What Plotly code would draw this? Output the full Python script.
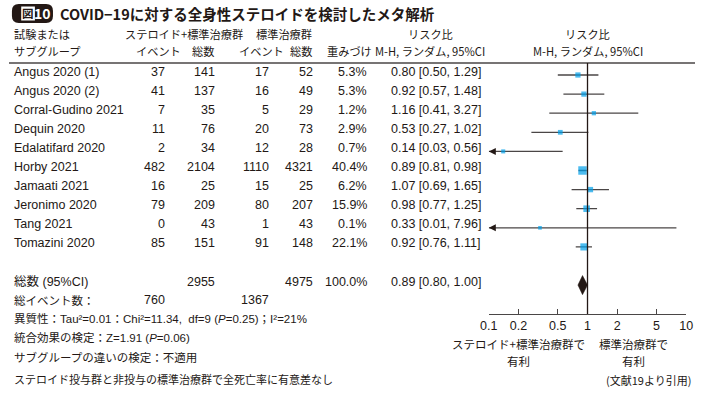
import math
import plotly.graph_objects as go

# ---------------- data ----------------
studies = ["Angus 2020 (1)", "Angus 2020 (2)", "Corral-Gudino 2021", "Dequin 2020",
           "Edalatifard 2020", "Horby 2021", "Jamaati 2021", "Jeronimo 2020",
           "Tang 2021", "Tomazini 2020"]
events_steroid = [37, 41, 7, 11, 2, 482, 16, 79, 0, 85]
total_steroid = [141, 137, 35, 76, 34, 2104, 25, 209, 43, 151]
events_control = [17, 16, 5, 20, 12, 1110, 15, 80, 1, 91]
total_control = [52, 49, 29, 73, 28, 4321, 25, 207, 43, 148]
weights = [5.3, 5.3, 1.2, 2.9, 0.7, 40.4, 6.2, 15.9, 0.1, 22.1]
rr = [0.80, 0.92, 1.16, 0.53, 0.14, 0.89, 1.07, 0.98, 0.33, 0.92]
ci_low = [0.50, 0.57, 0.41, 0.27, 0.03, 0.81, 0.69, 0.77, 0.01, 0.76]
ci_high = [1.29, 1.48, 3.27, 1.02, 0.56, 0.98, 1.65, 1.25, 7.96, 1.11]

pooled_label = "総数 (95%CI)"
pooled_total_steroid = 2955
pooled_total_control = 4975
pooled_weight = 100.0
pooled_rr = 0.89
pooled_low = 0.80
pooled_high = 1.00
total_events_steroid = 760
total_events_control = 1367

tick_values = [0.1, 0.2, 0.5, 1, 2, 5, 10]
tick_labels = ["0.1", "0.2", "0.5", "1", "2", "5", "10"]

# ---------------- layout helpers ----------------
W, H = 702, 395
ROW0, ROWH = 75, 19.1
TEXT_LIFT = 3.5          # table text sits slightly above the marks
def px(x):
    return x / W
def py(y):
    return 1 - y / H

INK = "#231815"
LINE = "#4a4646"
BLUE = "#00a0e9"
LAT = "Liberation Sans, Arial, Noto Sans CJK JP, sans-serif"
CJK = "Noto Sans CJK JP, Liberation Sans, sans-serif"

fig = go.Figure()

rows = list(range(len(studies)))
pooled_row = len(studies) + 1
xmin, xmax = tick_values[0], tick_values[-1]

# CI lines
lx, ly = [], []
for i in rows:
    lx += [max(ci_low[i], xmin), min(ci_high[i], xmax), None]
    ly += [i, i, None]
fig.add_trace(go.Scatter(x=lx, y=ly, mode="lines", line=dict(color=LINE, width=1.3),
                         hoverinfo="skip", showlegend=False))

# arrows for truncated CIs
ax_, ay_ = [], []
for i in rows:
    if ci_low[i] < xmin:
        ax_.append(xmin)
        ay_.append(i)
fig.add_trace(go.Scatter(x=ax_, y=ay_, mode="markers", cliponaxis=False,
                         marker=dict(symbol="arrow-left", size=7, color=INK),
                         hoverinfo="skip", showlegend=False))

# squares (size grows with weight)
fig.add_trace(go.Scatter(x=rr, y=rows, mode="markers", cliponaxis=False,
                         marker=dict(symbol="square", color=BLUE,
                                     size=[3.4 + 0.8 * math.sqrt(w) for w in weights],
                                     line=dict(width=0)),
                         hoverinfo="skip", showlegend=False))

# pooled diamond
fig.add_trace(go.Scatter(x=[pooled_low, pooled_rr, pooled_high, pooled_rr, pooled_low],
                         y=[pooled_row, pooled_row - 0.5, pooled_row, pooled_row + 0.5, pooled_row],
                         mode="lines", fill="toself", fillcolor=INK,
                         line=dict(color=INK, width=0.5), hoverinfo="skip", showlegend=False))

ann = []
def T(x, y, text, size=12.5, anchor="left", yref="paper", fam=LAT, bold=False, color=INK, lift=0):
    if bold:
        text = "<b>" + text + "</b>"
    ann.append(dict(x=px(x), y=y, xref="paper", yref=yref, text=text, showarrow=False,
                    xanchor=anchor, yanchor="middle", yshift=lift,
                    font=dict(size=size, family=fam, color=color)))

def R(x, row, text, anchor="left", fam=LAT):
    T(x, row, text, anchor=anchor, yref="y", fam=fam, lift=TEXT_LIFT)

# title
T(50, py(14), "COVID−19に対する全身性ステロイドを検討したメタ解析", size=14.5, fam=CJK, bold=True)
T(19.5, py(13.5), "図", size=11.5, anchor="center", fam=CJK, bold=True, color=INK)
T(34, py(13.5), "10", size=14, anchor="center", fam=CJK, bold=True, color="white")

# headers
HS = 11.2
Y1, Y2 = 34, 50.5
T(3, py(Y1), "試験または", size=HS, fam=CJK)
T(3, py(Y2), "サブグループ", size=HS, fam=CJK)
T(179, py(Y1), "ステロイド+標準治療群", size=HS, anchor="center", fam=CJK)
T(281, py(Y1), "標準治療群", size=HS, anchor="center", fam=CJK)
T(153, py(Y2), "イベント", size=HS, anchor="center", fam=CJK)
T(199, py(Y2), "総数", size=HS, anchor="center", fam=CJK)
T(258, py(Y2), "イベント", size=HS, anchor="center", fam=CJK)
T(299, py(Y2), "総数", size=HS, anchor="center", fam=CJK)
T(348, py(Y2), "重みづけ", size=HS, anchor="center", fam=CJK)
T(431, py(Y1), "リスク比", size=HS, anchor="center", fam=CJK)
T(431, py(Y2), "M-H, ランダム, 95%CI", size=HS, anchor="center", fam=CJK)
T(592, py(Y1), "リスク比", size=HS, anchor="center", fam=CJK)
T(592, py(Y2), "M-H, ランダム, 95%CI", size=HS, anchor="center", fam=CJK)

# study rows
for i in rows:
    R(3, i, studies[i])
    R(162, i, str(events_steroid[i]), anchor="right")
    R(213, i, str(total_steroid[i]), anchor="right")
    R(268, i, str(events_control[i]), anchor="right")
    R(313, i, str(total_control[i]), anchor="right")
    R(368, i, f"{weights[i]:.1f}%", anchor="right")
    R(389, i, f"{rr[i]:.2f} [{ci_low[i]:.2f}, {ci_high[i]:.2f}]")

# pooled row
R(3, pooled_row, pooled_label)
R(213, pooled_row, str(pooled_total_steroid), anchor="right")
R(313, pooled_row, str(pooled_total_control), anchor="right")
R(368, pooled_row, f"{pooled_weight:.1f}%", anchor="right")
R(389, pooled_row, f"{pooled_rr:.2f} [{pooled_low:.2f}, {pooled_high:.2f}]")

# statistics lines
SS = 11.5
T(3, py(299.5), "総イベント数：", size=SS, fam=CJK)
T(162, py(299.5), str(total_events_steroid), anchor="right")
T(268, py(299.5), str(total_events_control), anchor="right")
T(3, py(318.5), "異質性：Tau²=0.01：Chi²=11.34,  df=9 (<i>P</i>=0.25)；I²=21%", size=SS, fam=LAT)
T(3, py(337.5), "統合効果の検定：Z=1.91 (<i>P</i>=0.06)", size=SS, fam=LAT)
T(3, py(356.5), "サブグループの違いの検定：不適用", size=SS, fam=CJK)
T(3, py(379), "ステロイド投与群と非投与の標準治療群で全死亡率に有意差なし", size=11, fam=CJK)

# favours labels
T(521, py(344), "ステロイド+標準治療群で", size=SS, anchor="center", fam=CJK)
T(521, py(361), "有利", size=SS, anchor="center", fam=CJK)
T(639, py(344), "標準治療群で", size=SS, anchor="center", fam=CJK)
T(639, py(361), "有利", size=SS, anchor="center", fam=CJK)
T(700, py(380), "(文献19より引用)", size=11, anchor="right", fam=CJK)

# shapes: title box, header rule, line of no effect
def rrect(x0, y0, x1, y1, r):
    return (f"M {px(x0 + r)},{py(y0)} L {px(x1 - r)},{py(y0)} "
            f"Q {px(x1)},{py(y0)} {px(x1)},{py(y0 + r)} L {px(x1)},{py(y1 - r)} "
            f"Q {px(x1)},{py(y1)} {px(x1 - r)},{py(y1)} L {px(x0 + r)},{py(y1)} "
            f"Q {px(x0)},{py(y1)} {px(x0)},{py(y1 - r)} L {px(x0)},{py(y0 + r)} "
            f"Q {px(x0)},{py(y0)} {px(x0 + r)},{py(y0)} Z")

shapes = [
    dict(type="path", xref="paper", yref="paper", path=rrect(3, 4, 45, 23, 7),
         fillcolor=INK, line=dict(width=0), layer="below"),
    dict(type="rect", xref="paper", yref="paper", x0=px(12.5), x1=px(26.5), y0=py(20.5), y1=py(6.5),
         fillcolor="white", line=dict(width=0), layer="below"),
    dict(type="line", xref="paper", yref="paper", x0=0, x1=1, y0=py(63), y1=py(63),
         line=dict(color=LINE, width=1.3)),
    dict(type="line", xref="x", yref="paper", x0=1, x1=1, y0=py(314), y1=py(63),
         line=dict(color=INK, width=1.3)),
]

fig.update_layout(
    width=W, height=H, margin=dict(l=0, r=0, t=0, b=0),
    paper_bgcolor="white", plot_bgcolor="white",
    annotations=ann, shapes=shapes,
    xaxis=dict(type="log", range=[math.log10(xmin), math.log10(xmax)],
               domain=[px(491), px(693)], anchor="free", position=py(314),
               tickvals=tick_values, ticktext=tick_labels,
               ticks="inside", ticklen=5, tickcolor=LINE, tickwidth=1.2,
               showline=True, linecolor=LINE, linewidth=1.3,
               showgrid=False, zeroline=False,
               tickfont=dict(family=LAT, size=12.5, color=INK)),
    yaxis=dict(range=[(H - ROW0) / ROWH, -ROW0 / ROWH], domain=[0, 1],
               visible=False, showgrid=False, zeroline=False),
    showlegend=False,
)

fig.write_html("out.html", config={"displayModeBar": False})

# remove the default page margin so the 702x395 figure fills the window exactly
with open("out.html", encoding="utf-8") as f:
    html = f.read()
html = html.replace("<head>", "<head><style>html,body{margin:0;padding:0;overflow:hidden;}</style>", 1)
with open("out.html", "w", encoding="utf-8") as f:
    f.write(html)
